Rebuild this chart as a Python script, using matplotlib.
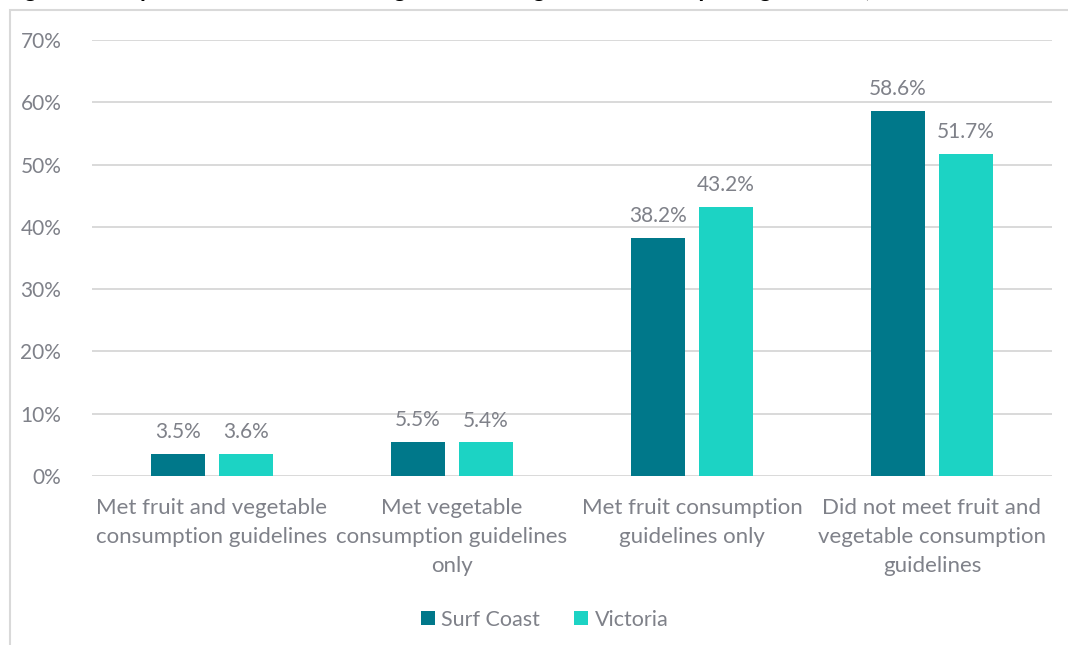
import numpy as np
import matplotlib.pyplot as plt
from matplotlib.patches import Rectangle

categories = [
    "Met fruit and vegetable\nconsumption guidelines",
    "Met vegetable\nconsumption guidelines\nonly",
    "Met fruit consumption\nguidelines only",
    "Did not meet fruit and\nvegetable consumption\nguidelines",
]
surf_coast = [3.5, 5.5, 38.2, 58.6]
victoria = [3.6, 5.4, 43.2, 51.7]
series_names = ["Surf Coast", "Victoria"]
colors = ["#00788A", "#1CD3C4"]

plt.rcParams["font.family"] = ["Lato", "DejaVu Sans"]
text_grey = "#7F8189"

fig = plt.figure(figsize=(10.68, 6.45), dpi=100)
ax = fig.add_axes([0.086, 0.262, 0.899, 0.676])

x = np.arange(len(categories))
w = 0.225
off = 0.142
for vals, name, col, sgn in zip([surf_coast, victoria], series_names, colors, [-1, 1]):
    bars = ax.bar(x + sgn * off, vals, w, color=col, label=name, zorder=3)
    for b, v in zip(bars, vals):
        ax.text(b.get_x() + b.get_width() / 2, v + 1.9, f"{v:.1f}%",
                ha="center", va="bottom", fontsize=15, color=text_grey)

ax.set_xlim(-0.5, 3.5)
ax.set_ylim(0, 70)
ax.set_yticks(range(0, 71, 10))
ax.set_yticklabels([f"{t}%" for t in range(0, 71, 10)])
ax.yaxis.grid(True, color="#D9D9D9", linewidth=1.4, zorder=0)
ax.tick_params(axis="y", length=0, pad=22, labelsize=15, labelcolor=text_grey)
ax.tick_params(axis="x", length=0, pad=16)
ax.set_xticks(x)
ax.set_xticklabels(categories, fontsize=16, color=text_grey, linespacing=1.55)
for s in ax.spines.values():
    s.set_visible(False)

leg = fig.legend(loc="center", bbox_to_anchor=(0.51, 0.039), ncol=2, frameon=False,
                 fontsize=15.5, handlelength=0.65, handleheight=0.65,
                 handletextpad=0.3, columnspacing=1.6)
for t in leg.get_texts():
    t.set_color(text_grey)

# outer chart frame, running off the right and bottom edges
fig.patches.append(Rectangle((10 / 1068, -0.05), 1.1, 1 - 10 / 645 + 0.05,
                             transform=fig.transFigure, fill=False,
                             edgecolor="#D9D9D9", linewidth=1.5))

# title sits above the frame and is mostly cut off
fig.text(0.005, 1.0 + 3 / 645,
         "Figure 9: Proportion of adults meeting fruit and vegetable consumption guidelines, 2017",
         fontsize=17, color="black", fontweight="bold", va="baseline", ha="left")

fig.savefig("out.png", dpi=100)
